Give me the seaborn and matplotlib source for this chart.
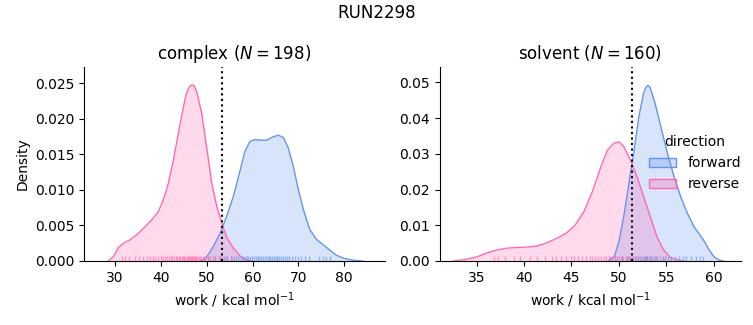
import numpy as np
import pandas as pd
import matplotlib
matplotlib.use("Agg")
import matplotlib.pyplot as plt
from matplotlib.patches import Patch
import seaborn as sns

# ---- data ----
directions = ["forward", "reverse"]
colors = {"forward": "#6495ED", "reverse": "#FF69B4"}

# density curves (work in kcal/mol, density)
complex_rev_x = [28.5, 29.6, 30.7, 31.8, 33.3, 34.7, 36.2, 38.0, 39.4, 40.5, 41.6, 42.7, 43.8, 44.9, 45.5,
                 46.0, 46.5, 46.9, 47.3, 47.8, 48.9, 50.0, 51.1, 52.2, 53.3, 54.3, 55.8, 57.3, 58.7, 60.0]
complex_rev_d = [0.0, 0.0006, 0.0019, 0.0025, 0.0030, 0.0037, 0.0046, 0.0058, 0.0069, 0.0086, 0.0109, 0.0142,
                 0.0180, 0.0217, 0.0234, 0.0243, 0.0247, 0.0248, 0.0246, 0.0238, 0.0208, 0.0159, 0.0109,
                 0.0076, 0.0053, 0.0034, 0.0018, 0.0007, 0.0001, 0.0]
complex_fwd_x = [48.9, 50.0, 51.4, 52.9, 54.3, 55.8, 57.3, 58.3, 59.4, 60.5, 61.6, 63.1, 64.2, 65.6, 66.7,
                 67.8, 68.9, 70.0, 71.1, 72.5, 74.0, 75.4, 76.9, 78.3, 79.8, 82.0, 84.1]
complex_fwd_d = [0.0, 0.0006, 0.0020, 0.0039, 0.0062, 0.0091, 0.0128, 0.0154, 0.0168, 0.0171, 0.0170, 0.0170,
                 0.0174, 0.0177, 0.0174, 0.0159, 0.0133, 0.0100, 0.0072, 0.0044, 0.0030, 0.0023, 0.0015,
                 0.0008, 0.0004, 0.0001, 0.0]
solvent_rev_x = [32.6, 34.0, 35.1, 36.1, 37.2, 38.2, 39.3, 40.3, 41.4, 42.4, 43.5, 44.5, 45.4, 46.3, 47.2,
                 48.1, 48.8, 49.5, 50.0, 50.5, 51.2, 51.9, 52.6, 53.3, 54.0, 54.7, 55.4, 56.1, 56.8]
solvent_rev_d = [0.0, 0.0005, 0.0012, 0.0023, 0.0031, 0.0036, 0.0038, 0.0039, 0.0042, 0.0051, 0.0064, 0.0079,
                 0.0101, 0.0138, 0.0194, 0.0264, 0.0311, 0.0330, 0.0333, 0.0321, 0.0283, 0.0236, 0.0180,
                 0.0124, 0.0068, 0.0031, 0.0010, 0.0003, 0.0]
solvent_fwd_x = [48.9, 49.5, 50.0, 50.5, 51.0, 51.6, 52.1, 52.6, 52.8, 53.0, 53.15, 53.3, 53.8, 54.4, 55.1,
                 55.8, 56.5, 57.2, 57.9, 58.4, 58.9, 59.5, 60.0, 60.5, 61.0]
solvent_fwd_d = [0.0, 0.0012, 0.0054, 0.0124, 0.0208, 0.0311, 0.0405, 0.0470, 0.0484, 0.0491, 0.0490, 0.0484,
                 0.0442, 0.0377, 0.0302, 0.0236, 0.0180, 0.0134, 0.0096, 0.0078, 0.0059, 0.0031, 0.0012,
                 0.0003, 0.0]

# rug samples
complex_rev_work = [31.5, 32.2, 33.0, 34.4, 35.3, 36.0, 36.9, 37.5, 38.2, 38.8, 39.4, 39.9, 40.5, 40.9, 41.3,
                    41.8, 42.1, 42.5, 42.9, 43.2, 43.6, 43.9, 44.2, 44.5, 44.8, 45.1, 45.3, 45.6, 45.8, 46.1,
                    46.3, 46.5, 46.7, 47.0, 47.2, 47.4, 47.7, 47.9, 48.2, 48.5, 48.8, 49.1, 49.5, 49.9, 50.3,
                    50.8, 51.3, 51.9, 52.6, 53.4, 54.3, 55.5]
complex_fwd_work = [50.2, 51.8, 52.9, 53.8, 54.5, 55.2, 55.9, 56.4, 56.9, 57.4, 57.8, 58.3, 58.7, 59.1, 59.5,
                    59.9, 60.3, 60.7, 61.1, 61.5, 61.9, 62.3, 62.7, 63.1, 63.5, 63.9, 64.3, 64.7, 65.0, 65.4,
                    65.8, 66.2, 66.6, 67.0, 67.5, 68.0, 68.6, 69.2, 69.9, 70.6, 71.4, 72.3, 74.6, 75.3, 76.0,
                    76.8]
solvent_rev_work = [36.8, 37.3, 38.0, 38.9, 39.6, 40.6, 41.4, 42.2, 42.9, 43.4, 43.9, 44.4, 44.9, 45.3, 45.7,
                    46.1, 46.5, 46.9, 47.2, 47.5, 47.8, 48.1, 48.4, 48.6, 48.9, 49.1, 49.3, 49.6, 49.8, 50.0,
                    50.2, 50.4, 50.7, 50.9, 51.1, 51.4, 51.7, 52.0, 52.4, 52.8, 53.3, 53.9, 54.6]
solvent_fwd_work = [49.6, 50.3, 50.8, 51.2, 51.5, 51.8, 52.0, 52.2, 52.4, 52.6, 52.7, 52.9, 53.0, 53.2, 53.4,
                    53.6, 53.8, 54.0, 54.3, 54.6, 54.9, 55.2, 55.5, 55.9, 56.3, 56.7, 57.1, 57.6, 58.1, 58.5,
                    58.9]

phases = ["complex", "solvent"]
phase_n = [198, 160]
free_energy = [53.4, 51.4]
xlims = [(23.2, 88.9), (31.1, 62.8)]
ylims = [(0, 0.0273), (0, 0.0543)]

curves = {
    "complex": {"forward": (complex_fwd_x, complex_fwd_d), "reverse": (complex_rev_x, complex_rev_d)},
    "solvent": {"forward": (solvent_fwd_x, solvent_fwd_d), "reverse": (solvent_rev_x, solvent_rev_d)},
}
rugs = {
    "complex": {"forward": complex_fwd_work, "reverse": complex_rev_work},
    "solvent": {"forward": solvent_fwd_work, "reverse": solvent_rev_work},
}

plt.style.use("default")
fig = plt.figure(figsize=(7.53, 3.25), dpi=100)
ax1 = fig.add_axes([84 / 753, 64 / 325, 301 / 753, 194 / 325])
ax2 = fig.add_axes([439.5 / 753, 64 / 325, 301 / 753, 194 / 325])
axes = [ax1, ax2]

for i, (ax, phase) in enumerate(zip(axes, phases)):
    for d in directions:
        x, dens = curves[phase][d]
        df = pd.DataFrame({"work": x, "density": dens})
        sns.lineplot(data=df, x="work", y="density", color=colors[d], linewidth=1,
                     estimator=None, sort=False, ax=ax)
        ax.fill_between(df["work"], 0, df["density"], color=colors[d], alpha=0.25, linewidth=0)
    rug_df = pd.DataFrame({
        "work": rugs[phase]["forward"] + rugs[phase]["reverse"],
        "direction": ["forward"] * len(rugs[phase]["forward"]) + ["reverse"] * len(rugs[phase]["reverse"]),
    })
    sns.rugplot(data=rug_df, x="work", hue="direction", palette=colors, height=0.025,
                alpha=0.6, linewidth=1, legend=False, ax=ax)
    ax.axvline(free_energy[i], color="black", linestyle=":", linewidth=1.5)
    ax.set_xlim(*xlims[i])
    ax.set_ylim(*ylims[i])
    ax.set_title(f"{phase} ($N = {phase_n[i]}$)", fontsize=12)
    ax.set_xlabel("work / kcal mol$^{-1}$")
    ax.set_ylabel("Density" if i == 0 else "")
    sns.despine(ax=ax)

ax1.set_xticks([30, 40, 50, 60, 70, 80])
ax2.set_xticks([35, 40, 45, 50, 55, 60])

handles = [Patch(facecolor=matplotlib.colors.to_rgba(colors[d], 0.3), edgecolor=colors[d], linewidth=1)
           for d in directions]
fig.legend(handles, directions, title="direction", loc="upper left", frameon=False,
           bbox_to_anchor=(636 / 753, 1 - 123 / 325), fontsize=10, title_fontsize=10)

fig.suptitle("RUN2298", fontsize=12, y=1 - 4 / 325, va="top")
fig.savefig("out.png", dpi=100)
